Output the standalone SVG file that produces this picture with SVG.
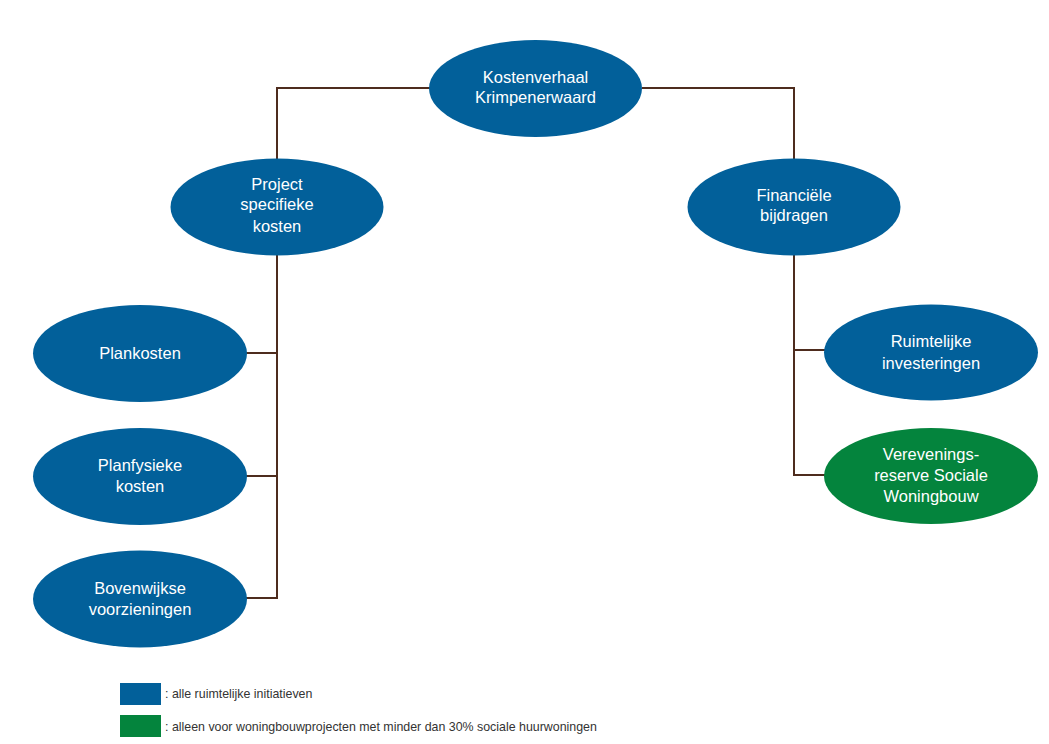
<svg xmlns="http://www.w3.org/2000/svg" width="1049" height="744" viewBox="0 0 1049 744">
<style>
.blue{fill:#02609A}
.green{fill:#04843D}
.lbl{font-family:"Liberation Sans",Arial,sans-serif;font-size:16.5px;fill:#ffffff;text-anchor:middle}
.leg{font-family:"Liberation Sans",Arial,sans-serif;font-size:12.4px;fill:#333333}
.conn{fill:none;stroke:#4E2C1E;stroke-width:2}
</style>
<rect width="1049" height="744" fill="#ffffff"/>
<g id="connectors">
<path class="conn" d="M430 88 H277 V160"/>
<path class="conn" d="M642 88 H794 V160"/>
<path class="conn" d="M277 254 V598 H246 M277 353 H246 M277 476 H246"/>
<path class="conn" d="M794 254 V475 H825 M794 350 H825"/>
</g>
<g id="n-root">
<ellipse class="blue" cx="535.5" cy="88.5" rx="106.5" ry="48.5"/>
<text class="lbl" x="535.5" y="83">Kostenverhaal</text>
<text class="lbl" x="535.5" y="103">Krimpenerwaard</text>
</g>
<g id="n-project">
<ellipse class="blue" cx="277" cy="207" rx="106.5" ry="48.5"/>
<text class="lbl" x="277" y="190">Project</text>
<text class="lbl" x="277" y="210">specifieke</text>
<text class="lbl" x="277" y="232">kosten</text>
</g>
<g id="n-fin">
<ellipse class="blue" cx="794" cy="207" rx="106.5" ry="48.5"/>
<text class="lbl" x="794" y="201">Financiële</text>
<text class="lbl" x="794" y="221">bijdragen</text>
</g>
<g id="n-plankosten">
<ellipse class="blue" cx="140" cy="353.5" rx="107" ry="48.5"/>
<text class="lbl" x="140" y="359">Plankosten</text>
</g>
<g id="n-planfysieke">
<ellipse class="blue" cx="140" cy="476.5" rx="107" ry="48.5"/>
<text class="lbl" x="140" y="471">Planfysieke</text>
<text class="lbl" x="140" y="492">kosten</text>
</g>
<g id="n-bovenwijkse">
<ellipse class="blue" cx="140" cy="599" rx="107" ry="48.5"/>
<text class="lbl" x="140" y="594">Bovenwijkse</text>
<text class="lbl" x="140" y="615">voorzieningen</text>
</g>
<g id="n-ruimtelijke">
<ellipse class="blue" cx="931" cy="352.5" rx="107" ry="48"/>
<text class="lbl" x="931" y="347">Ruimtelijke</text>
<text class="lbl" x="931" y="369">investeringen</text>
</g>
<g id="n-verevening">
<ellipse class="green" cx="931" cy="476" rx="107" ry="48"/>
<text class="lbl" x="931" y="460">Verevenings-</text>
<text class="lbl" x="931" y="481">reserve Sociale</text>
<text class="lbl" x="931" y="502">Woningbouw</text>
</g>
<g id="legend">
<rect class="blue" x="120" y="683" width="41" height="22"/>
<text class="leg" x="165" y="698">: alle ruimtelijke initiatieven</text>
<rect class="green" x="120" y="715" width="41" height="22"/>
<text class="leg" x="165" y="731">: alleen voor woningbouwprojecten met minder dan 30% sociale huurwoningen</text>
</g>
</svg>
